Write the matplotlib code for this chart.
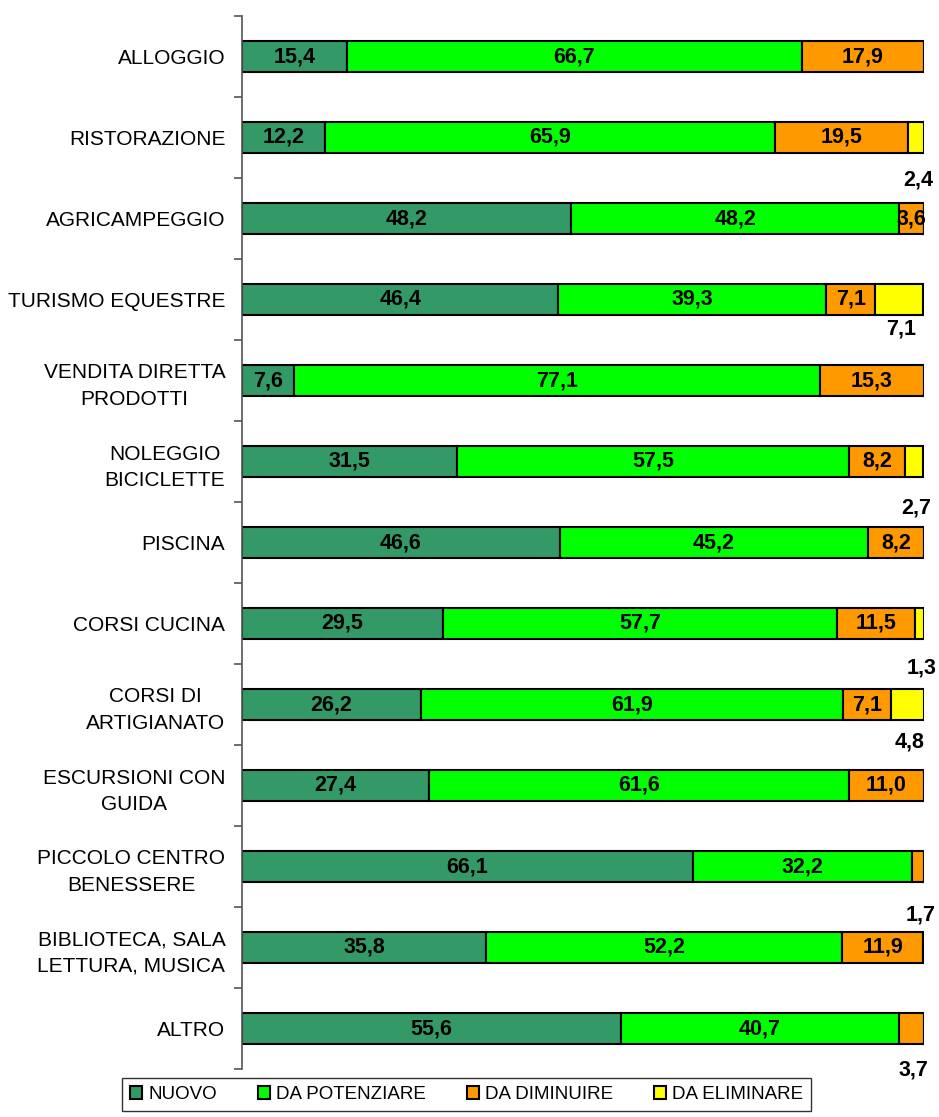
import matplotlib
matplotlib.use("Agg")
import matplotlib.pyplot as plt
import numpy as np

plt.rcParams['font.family'] = ['Liberation Sans', 'DejaVu Sans']

categories = ["ALLOGGIO", "RISTORAZIONE", "AGRICAMPEGGIO", "TURISMO EQUESTRE",
              "VENDITA DIRETTA\nPRODOTTI", "NOLEGGIO\nBICICLETTE", "PISCINA",
              "CORSI CUCINA", "CORSI DI\nARTIGIANATO", "ESCURSIONI CON\nGUIDA",
              "PICCOLO CENTRO\nBENESSERE", "BIBLIOTECA, SALA\nLETTURA, MUSICA", "ALTRO"]

series_names = ["NUOVO", "DA POTENZIARE", "DA DIMINUIRE", "DA ELIMINARE"]
nuovo        = [15.4, 12.2, 48.2, 46.4, 7.6, 31.5, 46.6, 29.5, 26.2, 27.4, 66.1, 35.8, 55.6]
potenziare   = [66.7, 65.9, 48.2, 39.3, 77.1, 57.5, 45.2, 57.7, 61.9, 61.6, 32.2, 52.2, 40.7]
diminuire    = [17.9, 19.5, 3.6, 7.1, 15.3, 8.2, 8.2, 11.5, 7.1, 11.0, 1.7, 11.9, 3.7]
eliminare    = [0, 2.4, 0, 7.1, 0, 2.7, 0, 1.3, 4.8, 0, 0, 0, 0]

colors = ["#339966", "#00FF00", "#FF9900", "#FFFF00"]

# labels drawn below the bar (series index, category index) -> vertical offset in category units
outside = {(3, 1): 0.52, (3, 3): 0.37, (3, 5): 0.58, (3, 7): 0.55, (3, 8): 0.46,
           (2, 10): 0.60, (2, 12): 0.51}

fig = plt.figure(figsize=(9.39, 11.17), dpi=100)
ax = fig.add_axes([242/939, 1-1069/1117, (924-242)/939, (1069-16)/1117])

y = np.arange(len(categories))
data = [nuovo, potenziare, diminuire, eliminare]
left = np.zeros(len(categories))
for si, (vals, col, name) in enumerate(zip(data, colors, series_names)):
    vals = np.array(vals, dtype=float)
    ax.barh(y, vals, left=left, height=0.39, color=col, edgecolor="black",
            linewidth=1.5, label=name)
    for ci, v in enumerate(vals):
        if v <= 0:
            continue
        cx = left[ci] + v / 2
        txt = f"{v:.1f}".replace(".", ",")
        if (si, ci) in outside:
            ax.text(cx + 0.3, ci + outside[(si, ci)], txt, ha="center", va="center",
                    fontsize=15.5, fontweight="bold", color="black")
        else:
            ax.text(cx, ci, txt, ha="center", va="center",
                    fontsize=15.5, fontweight="bold", color="black")
    left += vals

ax.set_xlim(0, 100)
ax.set_ylim(12.5, -0.5)
ax.set_yticks(y)
ax.set_yticklabels(categories, fontsize=15, multialignment="center", linespacing=1.5)
ax.set_yticks(np.arange(-0.5, 13, 1), minor=True)
ax.tick_params(axis="y", which="major", length=0, pad=12)
ax.tick_params(axis="y", which="minor", length=6, width=1.2, color="#555555")
ax.set_xticks([])
for s in ["top", "right", "bottom"]:
    ax.spines[s].set_visible(False)
ax.spines["left"].set_color("#555555")
ax.spines["left"].set_linewidth(1.2)

leg = fig.legend(loc="lower center", bbox_to_anchor=(0.497, 0.005), ncol=4,
                 fontsize=13.5, frameon=True, fancybox=False, edgecolor="black",
                 handlelength=0.65, handleheight=0.65, handletextpad=0.3,
                 columnspacing=2.2, borderpad=0.45, borderaxespad=0.0)
leg.get_frame().set_linewidth(1.0)

fig.savefig("out.png", dpi=100)
